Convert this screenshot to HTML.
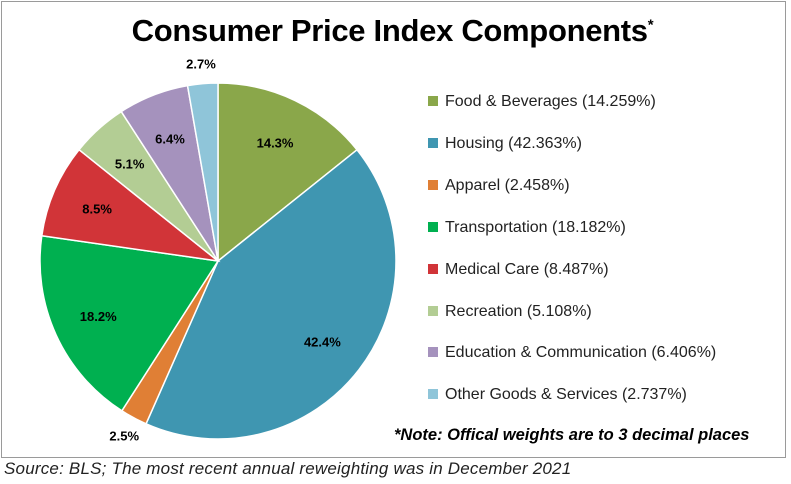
<!DOCTYPE html>
<html><head><meta charset="utf-8"><style>
body{margin:0;background:#fff;width:791px;height:484px;overflow:hidden;font-family:"Liberation Sans",sans-serif}
#frame{position:absolute;left:1px;top:1px;width:785px;height:457px;border:1px solid #9a9a9a;box-sizing:border-box}
#title{position:absolute;left:0;width:785px;top:13px;text-align:center;font-size:31px;font-weight:bold;color:#000;letter-spacing:-0.3px}
#title sup{font-size:15px}
.leg{position:absolute;left:428px;font-size:16px;color:#222}
.leg i{display:inline-block;width:10px;height:10px;margin-right:7px;vertical-align:0px}
#note{position:absolute;left:394px;top:426px;font-size:16.5px;font-style:italic;font-weight:bold}
#source{position:absolute;left:4px;top:459px;font-size:17px;font-style:italic;color:#222;letter-spacing:0.2px}
</style></head><body>
<div id="frame"></div>
<div id="title">Consumer Price Index Components<sup>*</sup></div>
<svg id="pie" width="791" height="484" style="position:absolute;left:0;top:0"></svg>
<div id="legend"></div>
<div id="note">*Note: Offical weights are to 3 decimal places</div>
<div id="source">Source: BLS; The most recent annual reweighting was in December 2021</div>
<script>
const categories=["Food & Beverages","Housing","Apparel","Transportation","Medical Care","Recreation","Education & Communication","Other Goods & Services"];
const values=[14.259,42.363,2.458,18.182,8.487,5.108,6.406,2.737];
const colors=["#8aa74a","#3f96b1","#e07f35","#00b050","#d13438","#b3cd94","#a592bd","#8fc5d9"];
const cx=218,cy=261,r=178;
const svg=document.getElementById('pie');
const NS="http://www.w3.org/2000/svg";
const total=values.reduce((a,b)=>a+b,0);
let a0=0;
values.forEach((v,i)=>{
  const a1=a0+v/total*2*Math.PI;
  const p=(a)=>[cx+r*Math.sin(a),cy-r*Math.cos(a)];
  const [x0,y0]=p(a0),[x1,y1]=p(a1);
  const path=document.createElementNS(NS,'path');
  path.setAttribute('d',`M${cx},${cy} L${x0},${y0} A${r},${r} 0 ${a1-a0>Math.PI?1:0} 1 ${x1},${y1} Z`);
  path.setAttribute('fill',colors[i]);path.setAttribute('stroke','#fff');path.setAttribute('stroke-width','1.5');
  
  
  svg.appendChild(path);
  const am=(a0+a1)/2;
  const lr=v<3?r+20:r*0.74;
  const t=document.createElementNS(NS,'text');
  t.setAttribute('x',cx+lr*Math.sin(am));t.setAttribute('y',cy-lr*Math.cos(am)+5);
  t.setAttribute('text-anchor','middle');t.setAttribute('font-size','13');t.setAttribute('font-weight','bold');
  t.setAttribute('font-family','Liberation Sans, sans-serif');
  t.textContent=(Math.round(v*10)/10).toFixed(1)+'%';
  
  
  svg.appendChild(t);
  a0=a1;
});
const leg=document.getElementById('legend');
categories.forEach((c,i)=>{
  const d=document.createElement('div');d.className='leg';d.style.top=(93+i*41.9)+'px';
  d.innerHTML=`<i style="background:${colors[i]}"></i>${c.replace('&','&amp;')} (${values[i].toFixed(3)}%)`;
  
  
  leg.appendChild(d);
});
</script>
</body></html>
